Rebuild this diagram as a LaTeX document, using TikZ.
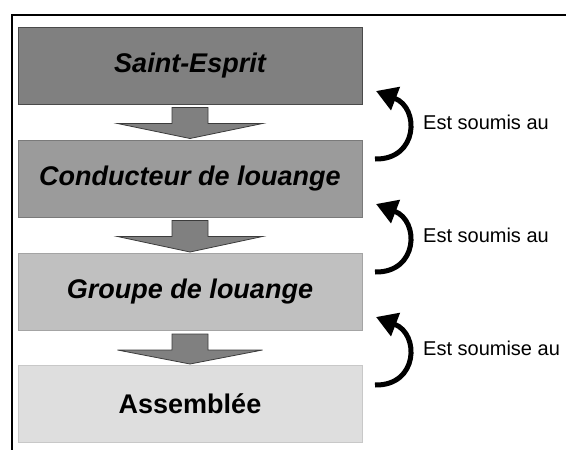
\documentclass[tikz,border=0pt]{standalone}
\usepackage{fontspec}
\setmainfont{Liberation Sans}
\usetikzlibrary{arrows.meta,calc}
\definecolor{fillA}{HTML}{808080}
\definecolor{lineA}{HTML}{4A4A4A}
\definecolor{fillB}{HTML}{9B9B9B}
\definecolor{lineB}{HTML}{7A7A7A}
\definecolor{fillC}{HTML}{C0C0C0}
\definecolor{lineC}{HTML}{A4A4A4}
\definecolor{fillD}{HTML}{DEDEDE}
\definecolor{lineD}{HTML}{C8C8C8}
\definecolor{arrowfill}{HTML}{808080}
\definecolor{arrowline}{HTML}{3C3C3C}
\tikzset{
  levelbox/.style={rectangle, minimum width=344pt, minimum height=77pt, inner sep=0pt, line width=1pt,
    font=\fontsize{27}{32}\selectfont\bfseries},
  blockarrow/.style={fill=arrowfill, draw=arrowline, line width=0.8pt, line join=miter},
  submitarrow/.style={line width=5pt, -{Triangle[length=21pt,width=24pt]}},
  submitlabel/.style={anchor=base west, inner sep=0pt, font=\fontsize{20}{24}\selectfont},
  frameline/.style={line width=2pt, draw=black}
}
\begin{document}
\begin{tikzpicture}[x=1pt,y=-1pt]
\useasboundingbox (0,0) rectangle (566,450);
\draw[frameline] (12,450) -- (12,15) -- (566,15);

\node[levelbox, fill=fillA, draw=lineA] (b1) at (190,65.5) {\itshape Saint-Esprit};
\node[levelbox, fill=fillB, draw=lineB] (b2) at (190,178.5) {\itshape Conducteur de louange};
\node[levelbox, fill=fillC, draw=lineC] (b3) at (190,292) {\itshape Groupe de louange};
\node[levelbox, fill=fillD, draw=lineD] (b4) at (190,404) {Assemblée};

\foreach \a/\b in {b1/b2,b2/b3,b3/b4}{
  \draw[blockarrow] ($(\a.south)+(-18,3)$) -- ++(0,16) -- ++(-54.5,0)
    -- ($(\b.north)+(0,-1)$) -- ($(\a.south)+(72.5,19)$) -- ++(-54.5,0)
    -- ($(\a.south)+(18,3)$) -- cycle;
}

\coordinate (t1) at (375,159);
\coordinate (h1) at (376,91);
\coordinate (t2) at (375,272);
\coordinate (h2) at (376,204);
\coordinate (t3) at (375,385);
\coordinate (h3) at (376,317);
\foreach \i in {1,2,3}{
  \draw[submitarrow] (t\i) .. controls ($(t\i)+(43,1)$) and ($(h\i)+(44,17)$) .. (h\i);
}
\node[submitlabel] (l1) at (423,129) {Est soumis au};
\node[submitlabel] (l2) at (423,242) {Est soumis au};
\node[submitlabel] (l3) at (423,355) {Est soumise au};
\end{tikzpicture}
\end{document}
